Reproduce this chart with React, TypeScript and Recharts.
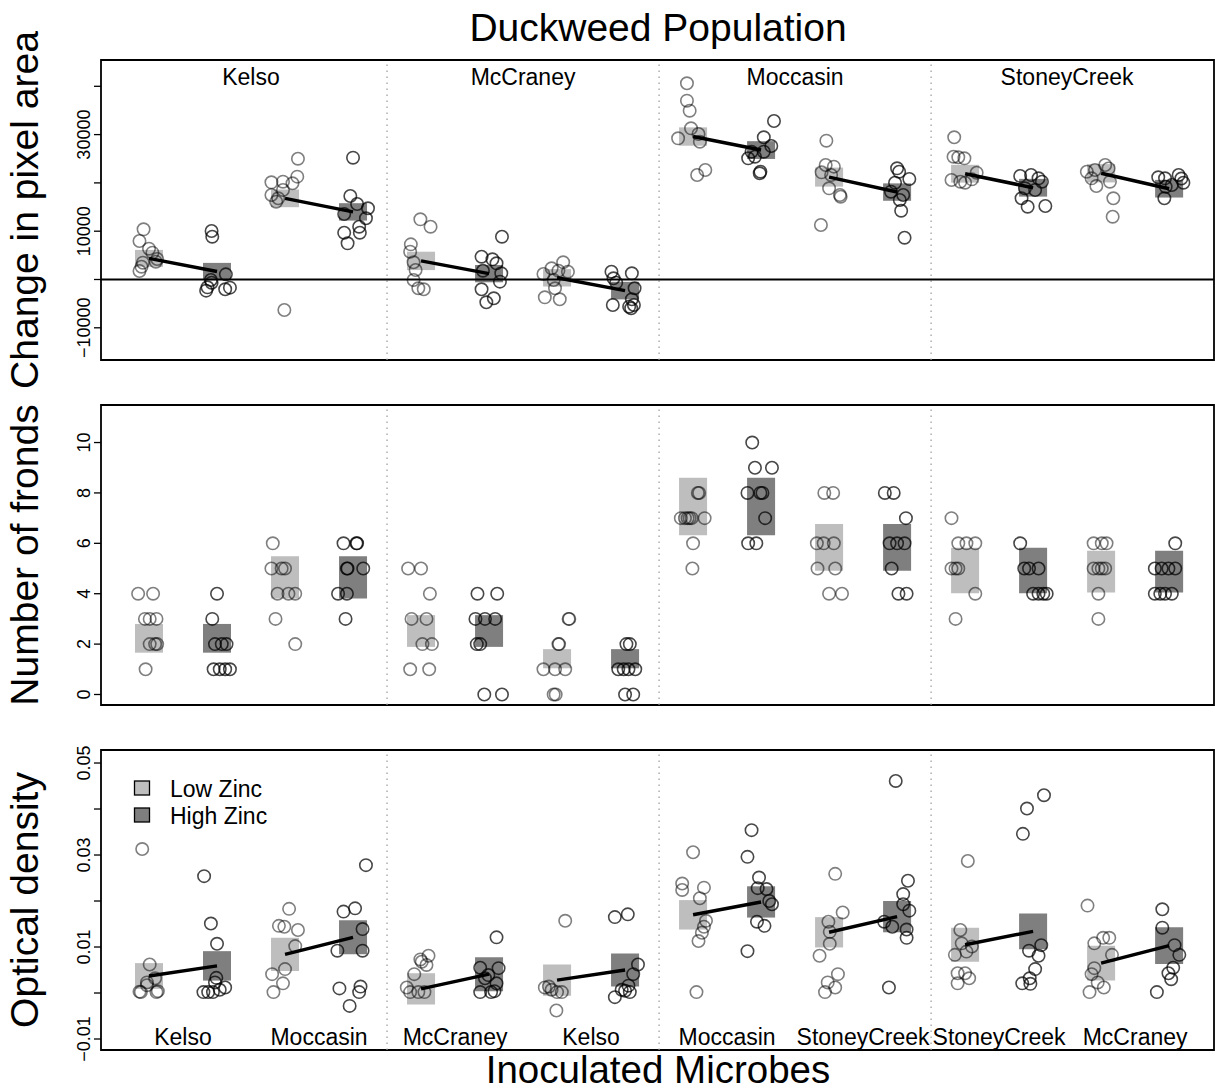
import React from "react";
import { ComposedChart, ReferenceArea, ReferenceLine, Scatter, XAxis, YAxis } from "recharts";

// Order of groups along the x axis: 4 duckweed populations x 2 inoculated microbes x 2 zinc levels
const duckweedPops = ["Kelso", "McCraney", "Moccasin", "StoneyCreek"];
const microbes = ["Kelso", "Moccasin", "McCraney", "Kelso", "Moccasin", "StoneyCreek", "StoneyCreek", "McCraney"];
const zincLevels = ["Low Zinc", "High Zinc"];

// Change in pixel area: mean and SE per group, points as [jitter, value]
const areaMean = [4380, 1650, 16800, 14000, 3850, 1210, 350, -2300, 29600, 26800, 21200, 18100, 21900, 19000, 22000, 18800];
const areaSE = [1750, 1790, 1830, 1800, 1900, 1790, 1800, 1820, 1900, 1840, 1970, 1800, 1840, 1840, 1900, 1830];
const areaPts = [
  [[-0.08, 10390], [-0.14, 7970], [0.0, 6380], [0.05, 5550], [0.12, 4240], [0.1, 3690], [-0.09, 3480], [-0.11, 2650], [-0.14, 1760]],
  [[-0.08, 10040], [-0.07, 8860], [0.13, 1070], [-0.09, -100], [-0.14, -1620], [-0.16, -2310], [0.12, -2030], [0.19, -1690], [-0.08, -660]],
  [[0.19, 25010], [0.18, 21290], [-0.03, 20250], [-0.2, 20120], [0.11, 19920], [-0.03, 18530], [-0.2, 17490], [-0.1, 16810], [-0.13, 16110], [-0.01, -6310]],
  [[0.0, 25220], [-0.04, 17290], [0.06, 15630], [0.22, 14740], [-0.13, 13560], [0.19, 12670], [0.09, 10930], [-0.13, 9690], [0.1, 9690], [-0.08, 7490]],
  [[-0.01, 12460], [0.14, 10930], [-0.15, 7280], [-0.16, 5760], [-0.11, 3560], [-0.08, 1970], [-0.11, -100], [-0.04, -1820], [0.04, -2030]],
  [[0.19, 8860], [-0.11, 4720], [0.05, 4180], [0.11, 3350], [0.18, 1280], [-0.09, 1820], [0.16, -450], [-0.11, -2030], [0.07, -3890], [-0.04, -4720]],
  [[0.09, 3560], [-0.08, 2320], [0.02, 1820], [0.16, 1610], [-0.2, 1140], [-0.05, -100], [-0.03, -1820], [-0.18, -3690], [0.04, -4100]],
  [[-0.2, 1610], [0.1, 1280], [-0.17, 250], [-0.13, -660], [0.14, -1820], [0.1, -4100], [-0.18, -5280], [0.06, -5630], [0.13, -5280], [0.09, -5960]],
  [[-0.09, 40620], [-0.09, 37020], [-0.05, 34950], [-0.03, 31300], [0.08, 30120], [0.1, 28530], [-0.22, 29230], [0.18, 22670], [0.06, 21640]],
  [[0.19, 32820], [0.04, 29440], [0.15, 27640], [-0.14, 26460], [-0.09, 25420], [-0.19, 25090], [-0.01, 22320], [-0.02, 21990], [0.04, 26460]],
  [[-0.04, 28740], [-0.05, 23710], [0.07, 23360], [-0.11, 22190], [0.03, 21640], [0.0, 18880], [0.16, 17490], [0.17, 17140], [-0.12, 11280]],
  [[0.0, 23020], [0.03, 22320], [0.18, 20810], [-0.03, 20040], [-0.09, 18180], [0.09, 17490], [0.04, 16460], [0.06, 14240], [0.11, 8650]],
  [[-0.16, 29440], [-0.17, 25420], [-0.1, 25300], [-0.01, 25090], [0.17, 22110], [-0.2, 20600], [-0.07, 20250], [0.0, 20040], [0.1, 20740]],
  [[-0.19, 21430], [-0.03, 21640], [0.08, 20950], [0.13, 20250], [-0.12, 18880], [0.03, 18530], [-0.17, 16810], [-0.08, 15070], [0.18, 15220]],
  [[0.06, 23710], [-0.21, 22320], [-0.09, 22670], [0.11, 23000], [-0.14, 20950], [0.13, 20250], [-0.07, 19360], [0.18, 16810], [0.17, 13000]],
  [[0.14, 21640], [-0.16, 21160], [-0.06, 20950], [0.21, 20040], [0.04, 19570], [-0.05, 19210], [-0.07, 16810], [0.18, 20900]],
];

// Number of fronds
const frondMean = [2.23, 2.23, 4.65, 4.65, 2.52, 2.52, 1.42, 1.42, 7.46, 7.46, 5.84, 5.84, 4.92, 4.92, 4.88, 4.88];
const frondSE = [0.57, 0.57, 0.84, 0.84, 0.63, 0.63, 0.38, 0.38, 1.14, 1.14, 0.93, 0.93, 0.9, 0.9, 0.83, 0.83];
const frondPts = [
  [[-0.16, 4], [0.06, 4], [-0.06, 3], [0.01, 3], [0.11, 3], [0.01, 2], [0.09, 2], [0.12, 2], [-0.05, 1]],
  [[0.0, 4], [-0.07, 3], [-0.03, 2], [0.07, 2], [0.14, 2], [-0.05, 1], [0.04, 1], [0.12, 1], [0.19, 1]],
  [[-0.18, 6], [-0.2, 5], [-0.05, 5], [0.0, 5], [-0.11, 4], [0.05, 4], [0.15, 4], [-0.14, 3], [0.15, 2]],
  [[-0.14, 6], [0.05, 6], [0.06, 6], [-0.09, 5], [-0.08, 5], [0.15, 5], [-0.22, 4], [-0.09, 4], [-0.11, 3]],
  [[-0.19, 5], [0.0, 5], [0.13, 4], [-0.14, 3], [0.08, 3], [0.02, 2], [0.16, 2], [-0.16, 1], [0.12, 1]],
  [[-0.17, 4], [0.12, 4], [-0.2, 3], [-0.06, 3], [0.09, 3], [-0.18, 2], [-0.13, 2], [-0.07, 0], [0.19, 0]],
  [[0.17, 3], [0.18, 3], [0.02, 2], [0.03, 2], [-0.2, 1], [-0.03, 1], [0.12, 1], [-0.05, 0], [-0.02, 0]],
  [[0.02, 2], [0.07, 2], [-0.1, 1], [-0.02, 1], [0.05, 1], [0.15, 1], [0.0, 0], [0.12, 0]],
  [[0.07, 8], [0.09, 8], [-0.18, 7], [-0.12, 7], [-0.08, 7], [-0.05, 7], [-0.02, 7], [0.17, 7], [0.0, 6], [-0.01, 5]],
  [[-0.13, 10], [-0.09, 9], [0.16, 9], [-0.2, 8], [-0.01, 8], [0.02, 8], [0.06, 7], [-0.19, 6], [-0.07, 6]],
  [[-0.07, 8], [0.06, 8], [-0.18, 6], [-0.08, 6], [0.07, 6], [-0.17, 5], [0.09, 5], [0.0, 4], [0.19, 4]],
  [[-0.18, 8], [-0.05, 8], [0.13, 7], [-0.11, 6], [0.0, 6], [0.11, 6], [-0.08, 5], [0.02, 4], [0.14, 4]],
  [[-0.2, 7], [-0.1, 6], [0.02, 6], [0.15, 6], [-0.2, 5], [-0.14, 5], [-0.1, 5], [0.15, 4], [-0.14, 3]],
  [[-0.19, 6], [-0.13, 5], [-0.06, 5], [0.08, 5], [0.0, 4], [0.08, 4], [0.15, 4], [0.2, 4]],
  [[-0.11, 6], [0.01, 6], [0.08, 6], [-0.11, 5], [-0.04, 5], [0.01, 5], [0.06, 5], [-0.04, 4], [-0.04, 3]],
  [[0.09, 6], [-0.21, 5], [-0.11, 5], [-0.01, 5], [0.09, 5], [-0.21, 4], [-0.13, 4], [-0.06, 4], [0.04, 4]],
];

// Optical density
const odMean = [0.0037, 0.0059, 0.0084, 0.0121, 0.0009, 0.0041, 0.0028, 0.005, 0.017, 0.0198, 0.0132, 0.0166, 0.0105, 0.0134, 0.0065, 0.0103];
const odSE = [0.0028, 0.0032, 0.0036, 0.0037, 0.0034, 0.0037, 0.0034, 0.0036, 0.0032, 0.0034, 0.0033, 0.0034, 0.0037, 0.0039, 0.0038, 0.004];
const odPts = [
  [[-0.1, 0.0313], [0.01, 0.0062], [0.09, 0.0032], [-0.03, 0.0023], [-0.14, 0.0003], [-0.12, 0.0002], [0.11, 0.0002], [0.13, 0.0004], [-0.03, 0.0017]],
  [[-0.19, 0.0254], [-0.09, 0.0151], [0.0, 0.0107], [-0.01, 0.0033], [-0.03, 0.0023], [0.12, 0.0012], [-0.2, 0.0002], [-0.13, 0.0002], [-0.06, 0.0002], [0.04, 0.0007]],
  [[0.06, 0.0183], [-0.09, 0.0146], [-0.01, 0.0144], [0.19, 0.0137], [0.15, 0.0102], [0.0, 0.0052], [-0.19, 0.0041], [-0.03, 0.0021], [-0.17, 0.0002]],
  [[0.19, 0.0278], [-0.14, 0.0177], [0.03, 0.0184], [0.14, 0.0139], [-0.23, 0.0092], [0.14, 0.0092], [-0.2, 0.001], [0.11, 0.0014], [0.09, 0.0002], [-0.05, -0.0028]],
  [[0.11, 0.0081], [-0.01, 0.0073], [0.01, 0.0068], [0.08, 0.0061], [-0.1, 0.0041], [-0.21, 0.0012], [-0.16, 0.0002], [-0.04, 0.0002], [0.05, 0.0002]],
  [[0.11, 0.0121], [-0.13, 0.0055], [0.14, 0.0054], [-0.01, 0.0039], [-0.06, 0.0032], [0.11, 0.0021], [-0.13, 0.0002], [0.03, 0.0002], [0.08, 0.0004]],
  [[0.12, 0.0157], [-0.18, 0.0012], [-0.08, 0.0007], [0.0, 0.0002], [0.07, 0.0002], [-0.01, -0.0038], [-0.12, 0.0014]],
  [[-0.15, 0.0165], [0.04, 0.0171], [0.19, 0.0062], [0.12, 0.0041], [0.05, 0.0016], [-0.05, 0.0007], [0.0, 0.0005], [0.07, 0.0002], [-0.15, -0.0009]],
  [[0.0, 0.0306], [-0.16, 0.0238], [-0.16, 0.0224], [0.16, 0.0229], [0.1, 0.0206], [0.19, 0.0157], [0.16, 0.0144], [0.13, 0.0131], [0.08, 0.0113], [0.05, 0.0002]],
  [[-0.14, 0.0354], [-0.2, 0.0296], [-0.03, 0.0251], [-0.05, 0.0228], [0.08, 0.0226], [0.12, 0.02], [0.16, 0.0193], [-0.06, 0.0155], [0.05, 0.0146], [-0.2, 0.0091]],
  [[0.09, 0.0259], [0.2, 0.0175], [-0.01, 0.0155], [0.01, 0.0133], [0.01, 0.0107], [-0.14, 0.0081], [0.13, 0.0041], [0.09, 0.0012], [-0.02, 0.0023], [-0.06, 0.0002]],
  [[-0.02, 0.0461], [0.16, 0.0244], [0.09, 0.0215], [0.09, 0.0193], [0.18, 0.0179], [-0.19, 0.0155], [-0.07, 0.0144], [0.14, 0.0138], [0.14, 0.012], [-0.12, 0.0012]],
  [[0.04, 0.0287], [-0.07, 0.0137], [-0.05, 0.0108], [0.1, 0.0101], [0.02, 0.009], [-0.15, 0.0083], [-0.11, 0.0043], [0.0, 0.0043], [0.06, 0.0032], [-0.11, 0.0021]],
  [[0.16, 0.043], [-0.09, 0.0401], [-0.15, 0.0346], [0.12, 0.0104], [-0.06, 0.0092], [0.08, 0.0081], [0.03, 0.0052], [-0.05, 0.0032], [-0.16, 0.0021], [-0.04, 0.002]],
  [[-0.2, 0.019], [-0.1, 0.0108], [0.03, 0.012], [0.12, 0.012], [0.16, 0.0083], [-0.1, 0.0054], [-0.14, 0.0041], [-0.05, 0.0023], [0.04, 0.0012], [-0.17, 0.0002]],
  [[-0.1, 0.0182], [-0.1, 0.0142], [0.08, 0.0104], [0.15, 0.0083], [0.06, 0.0055], [-0.01, 0.0043], [0.03, 0.003], [-0.18, 0.0002]],
];

const areaTicks = [-10000, 0, 10000, 20000, 30000, 40000];
const areaLabeled = [-10000, 10000, 30000];
const frondTicks = [0, 2, 4, 6, 8, 10];
const odTicks = [-0.01, 0, 0.01, 0.02, 0.03, 0.04, 0.05];
const odLabeled = [-0.01, 0.01, 0.03, 0.05];

const FONT = "'Liberation Sans', Arial, Helvetica, sans-serif";
const W = 1215;
const PAD_T = 10;
const PAD_B = 30;
const PLOT_H = 300;
const PLOT_LEFT = 101;
const YW = 30;
const X_DOMAIN: [number, number] = [-0.706, 15.66];
const BOX_HALF = 0.206;
const LIGHT = "#bebebe";
const DARK = "#7f7f7f";

const minus = (s: string) => s.replace("-", "\u2212");

function toPoints(pts: number[][][], zinc: number) {
  return pts.flatMap((g, i) => (i % 2 === zinc ? g.map(([j, v]) => ({ x: i + j, y: v })) : []));
}

const ring = (stroke: string) => (p: any) =>
  <circle cx={p.cx} cy={p.cy} r={6.2} fill="none" stroke={stroke} strokeWidth={1.6} />;

// group name drawn inside the plot box, at the top or bottom edge
function GroupLabel({ viewBox, text, atTop }: any) {
  if (!viewBox) return null;
  const y = atTop ? viewBox.y + 25 : viewBox.y + viewBox.height - 5;
  return (
    <text x={viewBox.x} y={y} textAnchor="middle" fontSize={23} fontFamily={FONT} fill="#000">
      {text}
    </text>
  );
}

type PanelProps = {
  top: number;
  yDomain: [number, number];
  yTicks: number[];
  yLabeled: number[];
  fmt: (v: number) => string;
  pts: number[][][];
  mean: number[];
  se: number[];
  lines: boolean;
  zero?: boolean;
  xTicks?: number[];
  xLabels?: string[];
  labelsTop?: boolean;
};

function Panel(props: PanelProps) {
  const { top, yDomain, yTicks, yLabeled, fmt, pts, mean, se, lines, zero, xTicks, xLabels, labelsTop } = props;
  const low = toPoints(pts, 0);
  const high = toPoints(pts, 1);
  const pairs = microbes.map((_, m) => m);

  return (
    <div style={{ position: "absolute", left: 0, top: top - PAD_T }}>
      <ComposedChart
        width={W}
        height={PLOT_H + PAD_T + PAD_B}
        margin={{ top: PAD_T, right: 1, bottom: PAD_B, left: PLOT_LEFT - YW }}
      >
        <XAxis type="number" dataKey="x" domain={X_DOMAIN} allowDataOverflow hide />
        <YAxis
          type="number"
          dataKey="y"
          domain={yDomain}
          allowDataOverflow
          ticks={yTicks}
          interval={0}
          width={YW}
          axisLine={false}
          tickSize={7}
          tickLine={{ stroke: "#000", strokeWidth: 1.3 }}
          tick={(p: any) =>
            yLabeled.includes(p.payload.value) ? (
              <text
                x={p.x - 2}
                y={p.y}
                transform={`rotate(-90 ${p.x - 2} ${p.y})`}
                textAnchor="middle"
                fontSize={18}
                fontFamily={FONT}
                fill="#000"
              >
                {fmt(p.payload.value)}
              </text>
            ) : (
              <g />
            )
          }
        />
        {mean.map((m, i) => (
          <ReferenceArea
            key={`box${i}`}
            x1={i - BOX_HALF}
            x2={i + BOX_HALF}
            y1={m - se[i]}
            y2={m + se[i]}
            fill={i % 2 ? DARK : LIGHT}
            fillOpacity={1}
            stroke="none"
            ifOverflow="visible"
          />
        ))}
        {[3.5, 7.5, 11.5].map((x) => (
          <ReferenceLine key={`sep${x}`} x={x} stroke="#9a9a9a" strokeWidth={1.2} strokeDasharray="1.5 4.5" />
        ))}
        {zero && <ReferenceLine y={0} stroke="#000" strokeWidth={1.8} />}
        <Scatter data={low} shape={ring("rgba(0,0,0,0.5)")} isAnimationActive={false} />
        <Scatter data={high} shape={ring("rgba(0,0,0,0.72)")} isAnimationActive={false} />
        {lines &&
          pairs.map((m) => (
            <ReferenceLine
              key={`seg${m}`}
              segment={[
                { x: 2 * m, y: mean[2 * m] },
                { x: 2 * m + 1, y: mean[2 * m + 1] },
              ]}
              stroke="#000"
              strokeWidth={3.5}
              ifOverflow="visible"
            />
          ))}
        {xTicks &&
          xLabels &&
          xTicks.map((t, i) => (
            <ReferenceLine
              key={`lab${i}`}
              x={t}
              stroke="none"
              label={<GroupLabel text={xLabels[i]} atTop={labelsTop} />}
            />
          ))}
        <ReferenceArea
          x1={X_DOMAIN[0]}
          x2={X_DOMAIN[1]}
          y1={yDomain[0]}
          y2={yDomain[1]}
          fill="none"
          stroke="#000"
          strokeWidth={1.8}
          ifOverflow="visible"
        />
      </ComposedChart>
    </div>
  );
}

export default function App() {
  const popTicks = duckweedPops.map((_, i) => 4 * i + 1.5);
  const microbeTicks = microbes.map((_, i) => 2 * i + 0.5);
  return (
    <div style={{ position: "absolute", left: 0, top: 0, width: W, height: 1092, background: "#fff", fontFamily: FONT }}>
      <Panel
        top={60}
        yDomain={[-16667, 45445]}
        yTicks={areaTicks}
        yLabeled={areaLabeled}
        fmt={(v) => minus(String(v))}
        pts={areaPts}
        mean={areaMean}
        se={areaSE}
        lines
        zero
        xTicks={popTicks}
        xLabels={duckweedPops}
        labelsTop
      />
      <Panel
        top={405}
        yDomain={[-0.417, 11.49]}
        yTicks={frondTicks}
        yLabeled={frondTicks}
        fmt={(v) => String(v)}
        pts={frondPts}
        mean={frondMean}
        se={frondSE}
        lines={false}
      />
      <Panel
        top={750}
        yDomain={[-0.01239, 0.05283]}
        yTicks={odTicks}
        yLabeled={odLabeled}
        fmt={(v) => minus(v.toFixed(2))}
        pts={odPts}
        mean={odMean}
        se={odSE}
        lines
        xTicks={microbeTicks}
        xLabels={microbes}
      />
      <svg width={W} height={1092} style={{ position: "absolute", left: 0, top: 0, pointerEvents: "none" }}>
        <text x={658} y={41} textAnchor="middle" fontSize={39} fontFamily={FONT}>Duckweed Population</text>
        <text x={658} y={1083} textAnchor="middle" fontSize={38.5} fontFamily={FONT}>Inoculated Microbes</text>
        <text x={38} y={210} transform="rotate(-90 38 210)" textAnchor="middle" fontSize={39} fontFamily={FONT}>Change in pixel area</text>
        <text x={38} y={555} transform="rotate(-90 38 555)" textAnchor="middle" fontSize={39} fontFamily={FONT}>Number of fronds</text>
        <text x={38} y={900} transform="rotate(-90 38 900)" textAnchor="middle" fontSize={39} fontFamily={FONT}>Optical density</text>
        {zincLevels.map((z, i) => (
          <g key={z}>
            <rect x={134.5} y={781 + 27 * i} width={15} height={14} fill={i ? DARK : LIGHT} stroke="#000" strokeWidth={1.3} />
            <text x={170} y={797 + 27 * i} fontSize={23} fontFamily={FONT}>{z}</text>
          </g>
        ))}
      </svg>
    </div>
  );
}
